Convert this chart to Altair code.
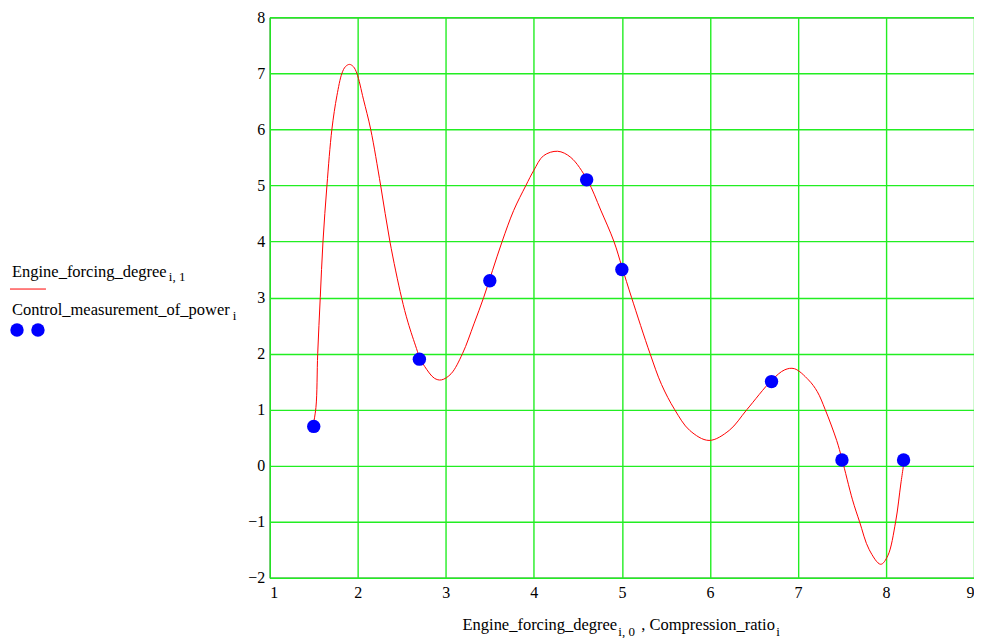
import altair as alt
import pandas as pd

# Curve: Engine_forcing_degree
curve_x = [1.49, 1.525, 1.545, 1.574, 1.605, 1.65, 1.706, 1.763, 1.82, 1.86, 1.906, 1.95,
           1.99, 2.064, 2.147, 2.26, 2.365, 2.497, 2.57, 2.667, 2.705, 2.76, 2.87, 2.95,
           3.06, 3.19, 3.32, 3.43, 3.53, 3.64, 3.77, 3.91, 4.0, 4.11, 4.27, 4.42, 4.61,
           4.76, 4.91, 5.0, 5.11, 5.32, 5.45, 5.60, 5.77, 5.99, 6.22, 6.42, 6.70, 6.85,
           6.96, 7.12, 7.22, 7.31, 7.44, 7.50, 7.62, 7.70, 7.81, 7.94, 8.02, 8.11, 8.17, 8.21]
curve_y = [0.69, 1.04, 2.0, 3.0, 4.0, 5.0, 6.0, 6.6, 7.0, 7.12, 7.16, 7.12,
           7.0, 6.54, 6.0, 5.0, 4.0, 3.0, 2.56, 2.09, 1.92, 1.77, 1.56, 1.53,
           1.64, 2.0, 2.53, 3.0, 3.48, 4.0, 4.55, 5.0, 5.27, 5.53, 5.61, 5.5, 5.09,
           4.56, 4.0, 3.55, 3.0, 2.0, 1.45, 1.0, 0.63, 0.45, 0.63, 1.0, 1.52, 1.71,
           1.73, 1.53, 1.32, 1.0, 0.45, 0.12, -0.61, -1.0, -1.5, -1.76, -1.61, -1.0, -0.31, 0.12]

# Control measurements
meas_x = [1.5, 2.7, 3.5, 4.6, 5.0, 6.7, 7.5, 8.2]
meas_y = [0.7, 1.9, 3.3, 5.1, 3.5, 1.5, 0.1, 0.1]

x_ticks = [1, 2, 3, 4, 5, 6, 7, 8, 9]
y_ticks = [-2, -1, 0, 1, 2, 3, 4, 5, 6, 7, 8]

W, H = 705, 561
FONT = "Liberation Serif"
GRID = "#22ee22"
TS = 16.5

xs = alt.Scale(domain=[1, 9], nice=False, zero=False)
ys = alt.Scale(domain=[-2, 8], nice=False, zero=False)

axis_common = dict(title=None, grid=True, gridColor=GRID, gridWidth=1.4, gridOpacity=1,
                   domain=False, ticks=False, labelFont=FONT, labelFontSize=16,
                   labelColor="black", format="d")

curve_df = pd.DataFrame({"x": curve_x, "y": curve_y})
meas_df = pd.DataFrame({"x": meas_x, "y": meas_y})

line = alt.Chart(curve_df).mark_line(color="#ff0000", strokeWidth=1, interpolate="catmull-rom").encode(
    x=alt.X("x:Q", scale=xs, axis=alt.Axis(values=x_ticks, labelPadding=7, **axis_common)),
    y=alt.Y("y:Q", scale=ys, axis=alt.Axis(values=y_ticks, labelPadding=5, **axis_common)),
    order=alt.Order("x:Q"),
)

pts = alt.Chart(meas_df).mark_circle(color="#0000ff", size=180, opacity=1).encode(
    x=alt.X("x:Q", scale=xs),
    y=alt.Y("y:Q", scale=ys),
)


def txt(s, x, y, size=TS):
    return alt.Chart(pd.DataFrame({"t": [s]})).mark_text(
        align="left", baseline="alphabetic", font=FONT, fontSize=size, color="black"
    ).encode(x=alt.value(x), y=alt.value(y), text="t:N")


one = pd.DataFrame({"a": [0]})

legend_line = alt.Chart(one).mark_rule(color="#ff0000", strokeWidth=1).encode(
    x=alt.value(-260), x2=alt.value(-224), y=alt.value(272)
)
legend_dot1 = alt.Chart(one).mark_circle(color="#0000ff", size=180, opacity=1).encode(
    x=alt.value(-253), y=alt.value(313)
)
legend_dot2 = alt.Chart(one).mark_circle(color="#0000ff", size=180, opacity=1).encode(
    x=alt.value(-232), y=alt.value(313)
)

chart = alt.layer(
    line, pts,
    txt("Engine_forcing_degree", -258, 260),
    txt("i, 1", -101, 264, 13),
    legend_line,
    txt("Control_measurement_of_power", -258, 298),
    txt("i", -37, 303, 13),
    legend_dot1, legend_dot2,
    txt("Engine_forcing_degree", 193, 613),
    txt("i, 0", 349, 619, 13),
    txt(", Compression_ratio", 372, 613),
    txt("i", 507, 619, 13),
).properties(
    width=W, height=H,
    autosize=alt.AutoSizeParams(type="none"),
    padding={"left": 262, "top": 9, "right": 0, "bottom": 60},
).configure_view(stroke="black", strokeWidth=1)

chart.save("out.html", embed_options={"renderer": "svg", "actions": False})
